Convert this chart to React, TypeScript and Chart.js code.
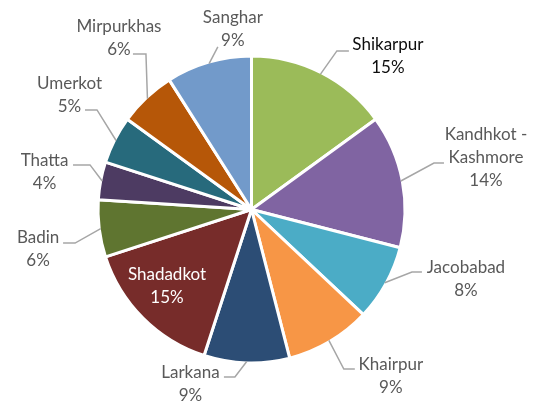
import React, { useEffect, useRef } from "react";
import { Chart, registerables } from "chart.js";

Chart.register(...registerables);

// ---- data ----
const categories = [
  "Shikarpur",
  "Kandhkot - Kashmore",
  "Jacobabad",
  "Khairpur",
  "Larkana",
  "Shadadkot",
  "Badin",
  "Thatta",
  "Umerkot",
  "Mirpurkhas",
  "Sanghar",
];
const shares = [15, 14, 8, 9, 9, 15, 6, 4, 5, 6, 9];

// ---- styles ----
const sliceColors = [
  "#9BBB59",
  "#8064A2",
  "#4BACC6",
  "#F79646",
  "#2C4D75",
  "#772C2A",
  "#5F7530",
  "#4D3B62",
  "#276A7C",
  "#B65708",
  "#729ACA",
];
const labelColors = [
  "#0D0D0D",
  "#595959",
  "#595959",
  "#595959",
  "#595959",
  "#FFFFFF",
  "#595959",
  "#595959",
  "#595959",
  "#595959",
  "#595959",
];
// label layout relative to each slice: angular shift from slice middle (deg),
// distance of text centre from pie centre (fraction of radius),
// leader end offset from text centre (px), horizontal leg length (px)
const labelShift = [14.7, -1.7, -10.85, -9.4, 17.5, 3, -3.3, -0.5, 5.2, 5.5, 10.3];
const labelDist = [1.349, 1.58, 1.483, 1.426, 1.216, 0.748, 1.428, 1.384, 1.415, 1.426, 1.194];
const leaderEnd: (number[] | null)[] = [
  [-39, -5.5],
  [-42, 5.5],
  [-44, -7],
  [-36, -6.5],
  [33.5, -7],
  null,
  [25, -6],
  [28.5, -7],
  [15.5, 15],
  [14, 16],
  [-15, 18],
];
const leaderLeg = [12, 10, 10, 11, 11, 0, 12, 17, 12, 13, 0];

const FONT = '17px Lato, "Open Sans", sans-serif';
const LINE_H = 23;

function labelLines(name: string, pct: number): string[] {
  const parts = name.includes(" - ") ? [name.split(" - ")[0] + " -", name.split(" - ")[1]] : [name];
  return [...parts, pct + "%"];
}

const labelPlugin = {
  id: "pieLabels",
  afterDatasetsDraw(chart: any) {
    const ctx = chart.ctx as CanvasRenderingContext2D;
    const meta = chart.getDatasetMeta(0);
    const data = chart.data.datasets[0].data as number[];
    const total = data.reduce((a, b) => a + b, 0);
    ctx.save();
    meta.data.forEach((arc: any, i: number) => {
      const p = arc.getProps(["x", "y", "startAngle", "endAngle", "outerRadius"], true);
      const R = p.outerRadius - 1.5;
      const mid = (p.startAngle + p.endAngle) / 2;
      const la = mid + (labelShift[i] * Math.PI) / 180;
      const cx = p.x + labelDist[i] * R * Math.cos(la);
      const cy = p.y + labelDist[i] * R * Math.sin(la);
      const end = leaderEnd[i];
      if (end) {
        const sx = p.x + R * Math.cos(mid);
        const sy = p.y + R * Math.sin(mid);
        const ex = cx + end[0];
        const ey = cy + end[1];
        const elbowX = ex + (ex > p.x ? -leaderLeg[i] : leaderLeg[i]);
        ctx.beginPath();
        ctx.moveTo(sx, sy);
        ctx.lineTo(elbowX, ey);
        ctx.lineTo(ex, ey);
        ctx.strokeStyle = "#A6A6A6";
        ctx.lineWidth = 1.5;
        ctx.stroke();
      }
      const pct = Math.round((data[i] / total) * 100);
      const lines = labelLines(categories[i], pct);
      ctx.font = FONT;
      ctx.fillStyle = labelColors[i];
      ctx.textAlign = "center";
      ctx.textBaseline = "middle";
      const top = cy - ((lines.length - 1) * LINE_H) / 2;
      lines.forEach((t, k) => ctx.fillText(t, cx, top + k * LINE_H));
    });
    ctx.restore();
  },
};

export default function App() {
  const ref = useRef<HTMLCanvasElement | null>(null);
  useEffect(() => {
    document.body.style.margin = "0";
    const canvas = ref.current!;
    const chart = new Chart(canvas, {
      type: "pie",
      data: {
        labels: categories,
        datasets: [
          {
            data: shares,
            backgroundColor: sliceColors,
            borderColor: "#FFFFFF",
            borderWidth: 3,
          },
        ],
      },
      options: {
        responsive: false,
        animation: false,
        devicePixelRatio: 1,
        radius: 153.5,
        layout: { padding: { left: 0, right: 31, top: 11, bottom: 0 } },
        plugins: {
          legend: { display: false },
          tooltip: { enabled: false },
        },
      },
      plugins: [labelPlugin],
    });
    return () => chart.destroy();
  }, []);
  return (
    <div style={{ width: 534, height: 408, background: "#FFFFFF" }}>
      <canvas ref={ref} width={534} height={408} />
    </div>
  );
}
